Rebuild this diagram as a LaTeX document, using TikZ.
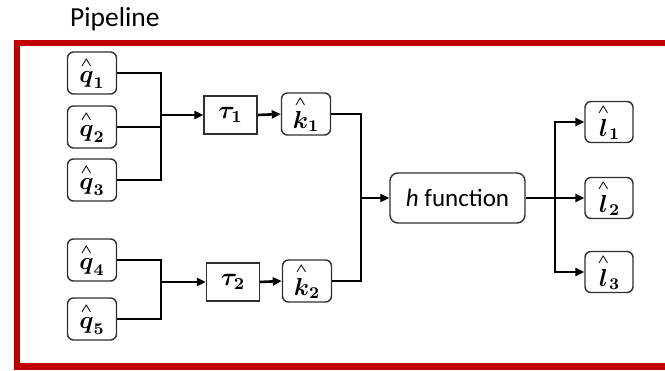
\documentclass[tikz,border=0pt]{standalone}
\usepackage{fontspec}
\usepackage{amsmath,bm,graphicx}
\setmainfont{Carlito}
\usetikzlibrary{arrows.meta}
\definecolor{framered}{HTML}{C00000}
\definecolor{boxline}{HTML}{303030}
\tikzset{
  varbox/.style={draw=boxline, line width=1.4pt, rounded corners=6pt, fill=white,
    minimum width=49pt, minimum height=42pt, inner sep=0pt, font=\fontsize{12}{14}\selectfont},
  taubox/.style={draw=boxline, line width=1.4pt, fill=white,
    minimum width=53pt, minimum height=38pt, inner sep=0pt, font=\fontsize{12}{14}\selectfont},
  funcbox/.style={draw=boxline, line width=1.4pt, rounded corners=8pt, fill=white,
    minimum width=135pt, minimum height=50pt, inner sep=0pt, font=\fontsize{25}{30}\selectfont},
  wire/.style={line width=2.6pt, black},
  arrow/.style={wire, -{Triangle[length=9pt,width=8pt]}},
}
\newcommand{\hatmark}{\raisebox{0.3pt}{$\scriptscriptstyle\bm{\wedge}$}}
\newcommand{\hv}[2]{\scalebox{2.05}{$\overset{\hatmark}{\bm{#1}}_{\bm{#2}}$}}
\newcommand{\tv}[1]{\scalebox{2.1}{$\bm{\tau}_{\bm{#1}}$}}
\begin{document}
\begin{tikzpicture}[x=1pt,y=-1pt]
\useasboundingbox (0,0) rectangle (665,371);
\fill[white] (0,0) rectangle (665,371);
\node[font=\fontsize{27.5}{32}\selectfont, anchor=base west, inner sep=0pt] (title) at (70,27) {Pipeline};
\draw[framered, line width=6.5pt] (690,43) -- (17,43) -- (17,366.5) -- (690,366.5);

\node[varbox] (q1) at (92,73) {\hv{q}{1}};
\node[varbox] (q2) at (92,127) {\hv{q}{2}};
\node[varbox] (q3) at (92,180) {\hv{q}{3}};
\node[varbox] (q4) at (92,260) {\hv{q}{4}};
\node[varbox] (q5) at (92,319) {\hv{q}{5}};

\node[taubox] (t1) at (230.5,115) {\tv{1}};
\node[taubox] (t2) at (233,282) {\tv{2}};

\node[varbox] (k1) at (306,114) {\hv{k}{1}};
\node[varbox] (k2) at (307,281) {\hv{k}{2}};

\node[funcbox] (h) at (457.5,198) {\textit{h} function};

\node[varbox, minimum width=48pt, minimum height=41pt] (l1) at (609,122) {\hv{l}{1}};
\node[varbox, minimum width=48pt, minimum height=41pt] (l2) at (609,198) {\hv{l}{2}};
\node[varbox, minimum width=48pt, minimum height=41pt] (l3) at (609,272) {\hv{l}{3}};

\coordinate (j1) at (161,115);
\coordinate (j2) at (161,282);
\coordinate (j3) at (361,198);
\coordinate (j4) at (555,198);

\draw[wire] (q1.east) -| (j1);
\draw[wire] (q3.east) -| (j1);
\draw[wire] (q2.east) -- (q2.east -| j1);
\draw[arrow] (j1) -- (t1.west);
\draw[wire] (q4.east) -| (j2);
\draw[wire] (q5.east) -| (j2);
\draw[arrow] (j2) -- (t2.west);

\draw[arrow] (t1.east) -- (k1.west);
\draw[arrow] (t2.east) -- (k2.west);

\draw[wire] (k1.east) -| (j3);
\draw[wire] (k2.east) -| (j3);
\draw[arrow] (j3) -- (h.west);

\draw[wire] (h.east) -- (j4);
\draw[arrow] (j4) |- (l1.west);
\draw[arrow] (j4) -- (l2.west);
\draw[arrow] (j4) |- (l3.west);
\end{tikzpicture}
\end{document}
